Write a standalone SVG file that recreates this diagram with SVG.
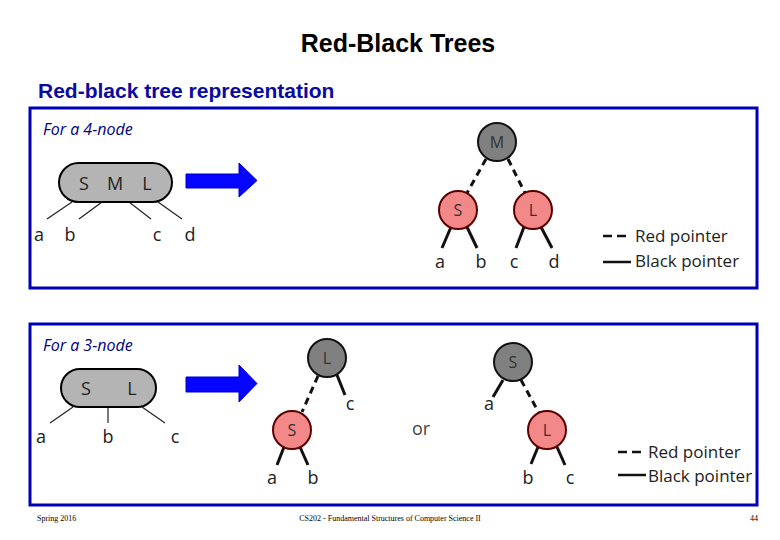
<svg xmlns="http://www.w3.org/2000/svg" width="780" height="540" viewBox="0 0 780 540">
<style>
.title{font-family:"Liberation Sans",Arial,sans-serif;font-weight:bold;font-size:25px;fill:#000}
.sub{font-family:"Liberation Sans",Arial,sans-serif;font-weight:bold;font-size:21px;fill:#0a0aa0}
.cap{font-family:"Open Sans","DejaVu Sans",sans-serif;font-style:italic;font-size:16px;fill:#000080}
.lbl{font-family:"Open Sans","DejaVu Sans",sans-serif;font-size:18px;fill:#222;text-anchor:middle}
.nl{font-family:"Open Sans","DejaVu Sans",sans-serif;font-size:16px;fill:#333;text-anchor:middle}
.leg{font-family:"Open Sans","DejaVu Sans",sans-serif;font-size:17px;fill:#222}
.foot{font-family:"Liberation Serif","Times New Roman",serif;font-size:8px;fill:#000}
.box{fill:none;stroke:#0000b4;stroke-width:3}
.pill{fill:#b4b4b4;stroke:#000;stroke-width:2}
.thin{stroke:#222;stroke-width:1.2;fill:none}
.blk{stroke:#111;stroke-width:3;fill:none}
.red{stroke:#111;stroke-width:3;fill:none;stroke-dasharray:7,5}
.gray{fill:#808080;stroke:#111;stroke-width:2}
.rnode{fill:#f28888;stroke:#5a0000;stroke-width:2}
.arrow{fill:#0505ff;stroke:#0000c8;stroke-width:1}
</style>

<text class="title" x="398" y="52" text-anchor="middle">Red-Black Trees</text>
<text class="sub" x="38" y="98">Red-black tree representation</text>

<rect class="box" x="30" y="108" width="727" height="180"/>
<rect class="box" x="30" y="324" width="727" height="181"/>

<g id="caption4"><text class="cap" x="43" y="135">For a 4-node</text></g>
<g id="caption3"><text class="cap" x="43" y="351">For a 3-node</text></g>

<g id="connectors">
  <!-- 4-node pill children -->
  <line class="thin" x1="72" y1="202" x2="47" y2="219"/>
  <line class="thin" x1="102" y1="202" x2="79" y2="219"/>
  <line class="thin" x1="129" y1="202" x2="151" y2="219"/>
  <line class="thin" x1="158" y1="202" x2="182" y2="219"/>
  <!-- 4-node tree -->
  <line class="red" x1="486" y1="159" x2="467" y2="193"/>
  <line class="red" x1="508" y1="159" x2="525" y2="193"/>
  <line class="blk" x1="451" y1="227" x2="442" y2="248"/>
  <line class="blk" x1="467" y1="227" x2="477" y2="248"/>
  <line class="blk" x1="524" y1="227" x2="516" y2="248"/>
  <line class="blk" x1="541" y1="227" x2="552" y2="248"/>
  <!-- 3-node pill children -->
  <line class="thin" x1="73" y1="407" x2="50" y2="423"/>
  <line class="thin" x1="108" y1="407" x2="108" y2="423"/>
  <line class="thin" x1="142" y1="407" x2="165" y2="423"/>
  <!-- tree 1 -->
  <line class="red" x1="318" y1="376" x2="302" y2="412"/>
  <line class="blk" x1="337" y1="375" x2="345" y2="395"/>
  <line class="blk" x1="284" y1="447" x2="277" y2="465"/>
  <line class="blk" x1="300" y1="447" x2="308" y2="465"/>
  <!-- tree 2 -->
  <line class="blk" x1="503" y1="380" x2="493" y2="397"/>
  <line class="red" x1="521" y1="380" x2="539" y2="413"/>
  <line class="blk" x1="538" y1="447" x2="531" y2="464"/>
  <line class="blk" x1="557" y1="447" x2="565" y2="465"/>
  <!-- legends -->
  <line class="red" x1="603" y1="236" x2="631" y2="236" style="stroke-dasharray:9,5;stroke-width:2.5"/>
  <line class="blk" x1="603" y1="262" x2="631" y2="262" style="stroke-width:2.5"/>
  <line class="red" x1="618" y1="452" x2="646" y2="452" style="stroke-dasharray:9,5;stroke-width:2.5"/>
  <line class="blk" x1="618" y1="475" x2="646" y2="475" style="stroke-width:2.5"/>
</g>

<g id="pill4">
  <rect class="pill" x="59" y="163" width="113" height="39" rx="19.5"/>
  <text class="lbl" x="84" y="190">S</text>
  <text class="lbl" x="115" y="190">M</text>
  <text class="lbl" x="147" y="190">L</text>
</g>
<g id="pill4-leaves">
  <text class="lbl" x="39" y="241">a</text>
  <text class="lbl" x="70" y="241">b</text>
  <text class="lbl" x="157" y="241">c</text>
  <text class="lbl" x="190" y="241">d</text>
</g>

<g id="arrow4"><polygon class="arrow" points="186,174 239,174 239,163 257,180.5 239,197 239,188 186,188"/></g>
<g id="arrow3"><polygon class="arrow" points="186,377 239,377 239,365 257,383.5 239,402 239,392 186,392"/></g>

<g id="nodeM"><circle class="gray" cx="497" cy="142" r="19"/><text class="nl" x="497" y="148">M</text></g>
<g id="nodeS4"><circle class="rnode" cx="458" cy="210" r="19"/><text class="nl" x="458" y="216">S</text></g>
<g id="nodeL4"><circle class="rnode" cx="533" cy="210" r="19"/><text class="nl" x="533" y="216">L</text></g>
<g id="leaves4">
  <text class="lbl" x="440" y="268">a</text>
  <text class="lbl" x="481" y="268">b</text>
  <text class="lbl" x="514" y="268">c</text>
  <text class="lbl" x="554" y="268">d</text>
</g>
<g id="legend4">
  <text class="leg" x="635" y="242">Red pointer</text>
  <text class="leg" x="635" y="267">Black pointer</text>
</g>

<g id="pill3">
  <rect class="pill" x="61" y="369" width="95" height="38" rx="19"/>
  <text class="lbl" x="86" y="395">S</text>
  <text class="lbl" x="132" y="395">L</text>
</g>
<g id="pill3-leaves">
  <text class="lbl" x="41" y="443">a</text>
  <text class="lbl" x="108" y="443">b</text>
  <text class="lbl" x="175" y="443">c</text>
</g>

<g id="tree1L"><circle class="gray" cx="327" cy="358" r="19"/><text class="nl" x="327" y="364">L</text></g>
<g id="tree1S"><circle class="rnode" cx="292" cy="430" r="19"/><text class="nl" x="292" y="436">S</text></g>
<g id="tree1-leaves">
  <text class="lbl" x="350" y="410">c</text>
  <text class="lbl" x="272" y="484">a</text>
  <text class="lbl" x="313" y="484">b</text>
</g>

<g id="or"><text class="lbl" x="421" y="435" style="fill:#444">or</text></g>

<g id="tree2S"><circle class="gray" cx="513" cy="362" r="19"/><text class="nl" x="513" y="368">S</text></g>
<g id="tree2L"><circle class="rnode" cx="547" cy="430" r="19"/><text class="nl" x="547" y="436">L</text></g>
<g id="tree2-leaves">
  <text class="lbl" x="489" y="410">a</text>
  <text class="lbl" x="528" y="484">b</text>
  <text class="lbl" x="570" y="484">c</text>
</g>
<g id="legend3">
  <text class="leg" x="648" y="458">Red pointer</text>
  <text class="leg" x="648" y="482">Black pointer</text>
</g>

<g id="footer">
  <text class="foot" x="37" y="521">Spring 2016</text>
  <text class="foot" x="390" y="521" text-anchor="middle">CS202 - Fundamental Structures of Computer Science II</text>
  <text class="foot" x="758" y="521" text-anchor="end">44</text>
</g>
</svg>
